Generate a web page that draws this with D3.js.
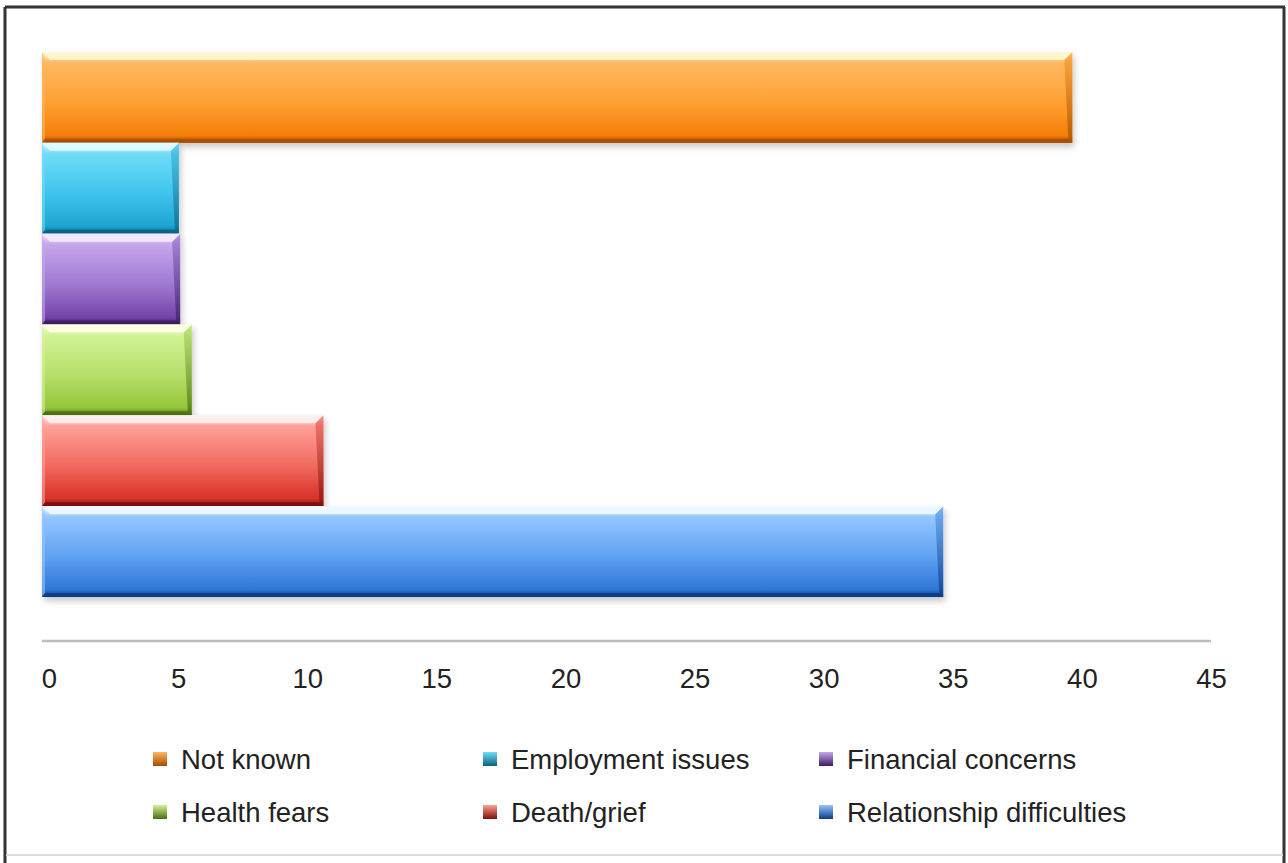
<!DOCTYPE html>
<html>
<head>
<meta charset="utf-8">
<script src="https://cdn.jsdelivr.net/npm/d3@7"></script>
<style>
  html, body { margin: 0; padding: 0; background: #fff; }
  svg { display: block; }
  text { font-family: "Liberation Sans", Arial, sans-serif; fill: #222; }
</style>
</head>
<body>
<svg id="chart" width="1288" height="863"></svg>
<script>
// categories, top to bottom
var categories = ["Not known", "Employment issues", "Financial concerns", "Health fears", "Death/grief", "Relationship difficulties"];
var values = [39.9, 5.3, 5.35, 5.8, 10.9, 34.9];
var tickValues = [0, 5, 10, 15, 20, 25, 30, 35, 40, 45];
var legendRows = [["Not known", "Employment issues", "Financial concerns"], ["Health fears", "Death/grief", "Relationship difficulties"]];

// palette: [highlight, top, mid, bottom, edge]
var palette = {
  "Not known":                ["#fff6d0", "#ffb860", "#ffa033", "#f47e08", "#a84c00"],
  "Employment issues":        ["#e0fbff", "#70dcf8", "#3fc4ec", "#1ea4d2", "#0a627e"],
  "Financial concerns":       ["#f4eaff", "#c6a6ec", "#a07ad2", "#7444a8", "#3a1a62"],
  "Health fears":             ["#fbffe4", "#d2f296", "#b6e06a", "#94c43a", "#4a6e10"],
  "Death/grief":              ["#fff0ee", "#ffa096", "#f26a60", "#d83228", "#7c0e0a"],
  "Relationship difficulties":["#eef9ff", "#94c6ff", "#60a2f2", "#2f76d6", "#0a3a84"]
};

var svg = d3.select("#chart");
var defs = svg.append("defs");

var x = d3.scaleLinear().domain([0, 45]).range([42, 1204]);
var y = d3.scaleBand().domain(categories).range([52, 597]).padding(0);

// frame
svg.append("line").attr("x1", 5).attr("y1", 7).attr("x2", 5).attr("y2", 863).attr("stroke", "#333").attr("stroke-width", 3);
svg.append("line").attr("x1", 5).attr("y1", 7).attr("x2", 1285).attr("y2", 7).attr("stroke", "#333").attr("stroke-width", 3);
svg.append("line").attr("x1", 1284).attr("y1", 7).attr("x2", 1284).attr("y2", 863).attr("stroke", "#333").attr("stroke-width", 3);
svg.append("line").attr("x1", 6).attr("y1", 855).attr("x2", 1283).attr("y2", 855).attr("stroke", "#dcdcdc").attr("stroke-width", 2);

// shadow filter
var f = defs.append("filter").attr("id", "shadow").attr("x", "-5%").attr("y", "-20%").attr("width", "110%").attr("height", "150%");
f.append("feDropShadow").attr("dx", 2).attr("dy", 4).attr("stdDeviation", 3).attr("flood-color", "#000").attr("flood-opacity", 0.22);

categories.forEach(function (c, i) {
  var p = palette[c];
  var g = defs.append("linearGradient").attr("id", "grad" + i).attr("x1", 0).attr("y1", 0).attr("x2", 0).attr("y2", 1);
  g.append("stop").attr("offset", "0%").attr("stop-color", p[0]);
  g.append("stop").attr("offset", "12%").attr("stop-color", p[1]);
  g.append("stop").attr("offset", "55%").attr("stop-color", p[2]);
  g.append("stop").attr("offset", "92%").attr("stop-color", p[3]);
  g.append("stop").attr("offset", "100%").attr("stop-color", p[4]);
  var e = defs.append("linearGradient").attr("id", "edge" + i).attr("x1", 0).attr("y1", 0).attr("x2", 0).attr("y2", 1);
  e.append("stop").attr("offset", "0%").attr("stop-color", p[2]);
  e.append("stop").attr("offset", "100%").attr("stop-color", p[4]);
});

// axis line
svg.append("line")
  .attr("x1", x(0)).attr("x2", x(45) + 7)
  .attr("y1", 641).attr("y2", 641)
  .attr("stroke", "#bdbdbd").attr("stroke-width", 2.5);

// bars
var bev = 8;
var bars = svg.append("g").selectAll("g").data(categories).enter().append("g");

bars.append("rect")
  .attr("x", x(0))
  .attr("y", function (d) { return y(d); })
  .attr("width", function (d, i) { return x(values[i]) - x(0); })
  .attr("height", y.bandwidth())
  .attr("fill", function (d, i) { return "url(#grad" + i + ")"; })
  .attr("filter", "url(#shadow)");

// right bevel
bars.append("path")
  .attr("d", function (d, i) {
    var x1 = x(values[i]), y0 = y(d), y1 = y(d) + y.bandwidth();
    return "M" + x1 + "," + y0 + "L" + x1 + "," + y1 + "L" + (x1 - 4) + "," + (y1 - 4) + "L" + (x1 - bev) + "," + (y0 + bev) + "Z";
  })
  .attr("fill", function (d, i) { return "url(#edge" + i + ")"; })
  .attr("opacity", 0.75);

// bottom bevel
bars.append("path")
  .attr("d", function (d, i) {
    var x0 = x(0), x1 = x(values[i]), y1 = y(d) + y.bandwidth();
    return "M" + x0 + "," + y1 + "L" + x1 + "," + y1 + "L" + (x1 - 4) + "," + (y1 - 4) + "L" + (x0 + 3) + "," + (y1 - 4) + "Z";
  })
  .attr("fill", function (d) { return palette[d][4]; })
  .attr("opacity", 0.8);

// top highlight
bars.append("path")
  .attr("d", function (d, i) {
    var x0 = x(0), x1 = x(values[i]), y0 = y(d);
    return "M" + x0 + "," + y0 + "L" + x1 + "," + y0 + "L" + (x1 - bev) + "," + (y0 + bev) + "L" + (x0 + bev) + "," + (y0 + bev) + "Z";
  })
  .attr("fill", function (d) { return palette[d][0]; })
  .attr("opacity", 0.9);

// left bevel
bars.append("path")
  .attr("d", function (d) {
    var x0 = x(0), y0 = y(d), y1 = y(d) + y.bandwidth();
    return "M" + x0 + "," + y0 + "L" + (x0 + 3) + "," + (y0 + bev) + "L" + (x0 + 3) + "," + (y1 - 4) + "L" + x0 + "," + y1 + "Z";
  })
  .attr("fill", function (d) { return palette[d][1]; })
  .attr("opacity", 0.6);

// tick labels
var axis = d3.axisBottom(x).tickValues(tickValues).tickSize(0).tickPadding(0);
var ax = svg.append("g").attr("transform", "translate(0,688)").call(axis);
ax.select(".domain").remove();
ax.selectAll("text")
  .attr("dx", 7)
  .attr("dy", 0)
  .attr("y", 0)
  .style("font-family", "'Liberation Sans', Arial, sans-serif")
  .style("font-size", "27.5px")
  .style("fill", "#222");

// legend
var colX = [181, 511, 847];
var rowY = [769, 822];
legendRows.forEach(function (row, r) {
  row.forEach(function (name, c) {
    var p = palette[name];
    var gid = "lg" + r + c;
    var lg = defs.append("linearGradient").attr("id", gid).attr("x1", 0).attr("y1", 0).attr("x2", 0).attr("y2", 1);
    lg.append("stop").attr("offset", "0%").attr("stop-color", p[1]);
    lg.append("stop").attr("offset", "100%").attr("stop-color", p[4]);
    svg.append("rect")
      .attr("x", colX[c] - 28).attr("y", rowY[r] - 17)
      .attr("width", 14).attr("height", 14)
      .attr("fill", "url(#" + gid + ")");
    svg.append("text")
      .attr("x", colX[c]).attr("y", rowY[r])
      .style("font-size", "27.5px")
      .text(name);
  });
});
</script>
</body>
</html>
